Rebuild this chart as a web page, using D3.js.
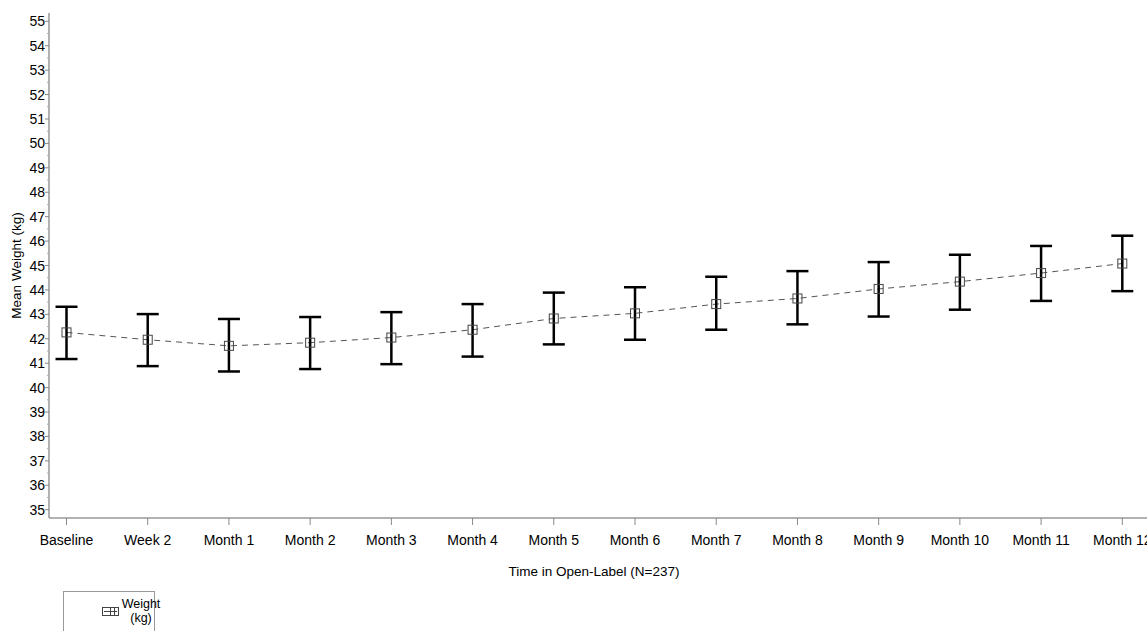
<!DOCTYPE html>
<html>
<head>
<meta charset="utf-8">
<script src="https://cdn.jsdelivr.net/npm/d3@7/dist/d3.min.js"></script>
<style>
  html, body { margin: 0; padding: 0; background: #fff; }
  svg { display: block; font-family: "Liberation Sans", Arial, sans-serif; }
</style>
</head>
<body>
<svg id="chart" width="1147" height="631"></svg>
<script>
const categories = ["Baseline", "Week 2", "Month 1", "Month 2", "Month 3", "Month 4", "Month 5",
  "Month 6", "Month 7", "Month 8", "Month 9", "Month 10", "Month 11", "Month 12"];
const meanWeight = [42.26, 41.96, 41.71, 41.84, 42.05, 42.37, 42.83, 43.04, 43.42, 43.65, 44.04, 44.34, 44.69, 45.08];
const upperCI = [43.31, 43.01, 42.81, 42.89, 43.09, 43.42, 43.89, 44.11, 44.54, 44.77, 45.14, 45.44, 45.80, 46.22];
const lowerCI = [41.17, 40.88, 40.66, 40.76, 40.96, 41.27, 41.77, 41.96, 42.37, 42.59, 42.91, 43.19, 43.55, 43.95];
const yTicks = d3.range(35, 56, 1);
const yMinorTicks = d3.range(35.5, 55, 1);
const xTitle = "Time in Open-Label (N=237)";
const yTitle = "Mean Weight (kg)";
const legendLabel = ["Weight", "(kg)"];

const svg = d3.select("#chart");
const W = 1147;
const axisX = 49, axisY = 518, topY = 13;

const x = d3.scalePoint().domain(categories).range([66.5, 1122.3]);
const y = d3.scaleLinear().domain([34.66, 55.34]).range([axisY, topY]);

const data = categories.map((c, i) => ({ c, m: meanWeight[i], hi: upperCI[i], lo: lowerCI[i] }));

// Y axis
const gy = svg.append("g");
gy.append("line").attr("x1", axisX).attr("x2", axisX).attr("y1", topY).attr("y2", axisY)
  .attr("stroke", "#888").attr("stroke-width", 1.3);
gy.selectAll("line.maj").data(yTicks).join("line").attr("class", "maj")
  .attr("x1", axisX - 4).attr("x2", axisX).attr("y1", d => y(d)).attr("y2", d => y(d))
  .attr("stroke", "#888").attr("stroke-width", 1);
gy.selectAll("line.min").data(yMinorTicks).join("line").attr("class", "min")
  .attr("x1", axisX - 2).attr("x2", axisX).attr("y1", d => y(d)).attr("y2", d => y(d))
  .attr("stroke", "#aaa").attr("stroke-width", 1);
gy.selectAll("text").data(yTicks).join("text")
  .attr("x", axisX - 4).attr("y", d => y(d)).attr("dy", "0.36em")
  .attr("text-anchor", "end").attr("font-size", 14).attr("fill", "#000")
  .text(d => d);

// X axis
const gx = svg.append("g");
gx.append("line").attr("x1", axisX).attr("x2", W).attr("y1", axisY).attr("y2", axisY)
  .attr("stroke", "#999").attr("stroke-width", 1.6);
gx.selectAll("line.tk").data(categories).join("line").attr("class", "tk")
  .attr("x1", d => x(d)).attr("x2", d => x(d)).attr("y1", axisY).attr("y2", axisY + 7)
  .attr("stroke", "#888").attr("stroke-width", 1);
gx.selectAll("text").data(categories).join("text")
  .attr("x", d => x(d)).attr("y", 545)
  .attr("text-anchor", "middle").attr("font-size", 14).attr("fill", "#000")
  .text(d => d);

// Axis titles
svg.append("text").attr("x", 594).attr("y", 576).attr("text-anchor", "middle")
  .attr("font-size", 13.5).attr("fill", "#000").text(xTitle);
svg.append("text").attr("transform", `translate(21, ${y(45)}) rotate(-90)`)
  .attr("text-anchor", "middle").attr("font-size", 13.5).attr("fill", "#000").text(yTitle);

// Dashed line
svg.append("path").datum(data)
  .attr("d", d3.line().x(d => x(d.c)).y(d => y(d.m)))
  .attr("fill", "none").attr("stroke", "#555").attr("stroke-width", 1)
  .attr("stroke-dasharray", "6,5");

// Error bars
const capW = 11;
const eb = svg.append("g").attr("stroke", "#000").attr("stroke-width", 2.5);
eb.selectAll("line.v").data(data).join("line").attr("class", "v")
  .attr("x1", d => x(d.c)).attr("x2", d => x(d.c)).attr("y1", d => y(d.hi)).attr("y2", d => y(d.lo));
eb.selectAll("line.hi").data(data).join("line").attr("class", "hi")
  .attr("x1", d => x(d.c) - capW).attr("x2", d => x(d.c) + capW).attr("y1", d => y(d.hi)).attr("y2", d => y(d.hi));
eb.selectAll("line.lo").data(data).join("line").attr("class", "lo")
  .attr("x1", d => x(d.c) - capW).attr("x2", d => x(d.c) + capW).attr("y1", d => y(d.lo)).attr("y2", d => y(d.lo));

// Markers
svg.append("g").selectAll("rect").data(data).join("rect")
  .attr("x", d => x(d.c) - 4.5).attr("y", d => y(d.m) - 4.5)
  .attr("width", 9).attr("height", 9)
  .attr("fill", "none").attr("stroke", "#444").attr("stroke-width", 1);

// Legend
const lg = svg.append("g");
lg.append("rect").attr("x", 63.5).attr("y", 591.5).attr("width", 91).attr("height", 50)
  .attr("fill", "#fff").attr("stroke", "#999").attr("stroke-width", 1);
lg.append("rect").attr("x", 102.5).attr("y", 607.5).attr("width", 8).attr("height", 8)
  .attr("fill", "none").attr("stroke", "#444").attr("stroke-width", 1);
lg.append("rect").attr("x", 110.5).attr("y", 607.5).attr("width", 8).attr("height", 8)
  .attr("fill", "none").attr("stroke", "#444").attr("stroke-width", 1);
lg.append("line").attr("x1", 104).attr("x2", 117).attr("y1", 611.5).attr("y2", 611.5)
  .attr("stroke", "#444").attr("stroke-width", 1);
lg.append("line").attr("x1", 114.5).attr("x2", 114.5).attr("y1", 608).attr("y2", 615)
  .attr("stroke", "#444").attr("stroke-width", 1);
lg.append("text").attr("x", 141).attr("y", 608).attr("text-anchor", "middle")
  .attr("font-size", 12.5).attr("fill", "#000").text(legendLabel[0]);
lg.append("text").attr("x", 141).attr("y", 622).attr("text-anchor", "middle")
  .attr("font-size", 12.5).attr("fill", "#000").text(legendLabel[1]);
</script>
</body>
</html>
